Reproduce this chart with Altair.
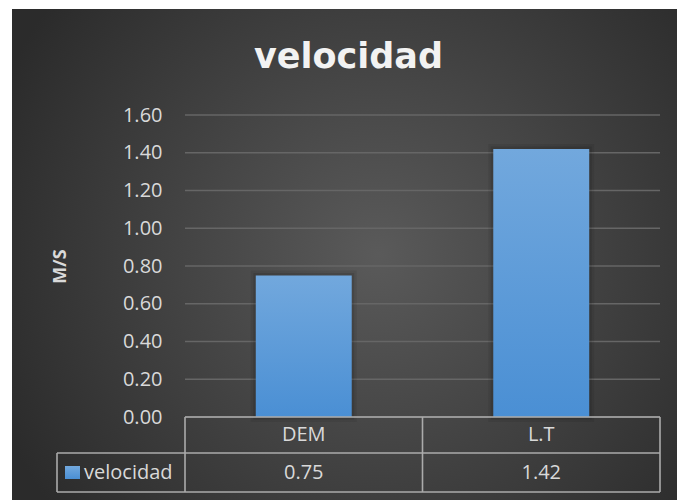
import altair as alt
import pandas as pd

# Chart data
SERIES = "velocidad"
categories = ["DEM", "L.T"]
values = [0.75, 1.42]
y_ticks = [0.0, 0.2, 0.4, 0.6, 0.8, 1.0, 1.2, 1.4, 1.6]
y_title = "M/S"

df = pd.DataFrame({"cat": categories, "val": values})
ticks_df = pd.DataFrame({"val": y_ticks})

W, H = 475, 302
FONT = "Open Sans"
TXT = "#d9d9d9"
LINE = "#ababab"

y_scale = alt.Scale(domain=[0, 1.6], nice=False)
y_axis = alt.Axis(values=y_ticks, format=".2f", title=y_title, grid=False,
                  domain=False, ticks=False, labelPadding=23, zindex=1,
                  labelFont=FONT, labelFontSize=20, labelColor=TXT,
                  titleFont=FONT, titleFontSize=18, titleFontWeight="bold",
                  titleColor=TXT, titleAngle=-90, titleX=-125, titleY=H / 2,
                  titleAlign="center", titleBaseline="middle")
x_enc = alt.X("cat:N", sort=categories,
              scale=alt.Scale(paddingInner=0, paddingOuter=0), axis=None)
y_enc = alt.Y("val:Q", scale=y_scale, axis=y_axis)

one = alt.Data(values=[{}])

# dark panel with radial shading
panel = alt.Chart(one).mark_rect(
    color={"gradient": "radial", "x1": 0.55, "y1": 0.5, "r1": 0,
           "x2": 0.55, "y2": 0.5, "r2": 0.62,
           "stops": [{"offset": 0, "color": "#5a5a5a"},
                     {"offset": 1, "color": "#2b2b2b"}]}
).encode(x=alt.value(-173), x2=alt.value(492), y=alt.value(-106), y2=alt.value(385))

# horizontal gridlines at the tick values
grid = alt.Chart(ticks_df).mark_rule(color="#666666", strokeWidth=1.3).encode(
    y=y_enc, x=alt.value(0), x2=alt.value(W))

bar_fill = {"gradient": "linear", "x1": 0, "y1": 0, "x2": 0, "y2": 1,
            "stops": [{"offset": 0, "color": "#72a8dd"},
                      {"offset": 1, "color": "#4a8fd4"}]}

shadow1 = alt.Chart(df).mark_bar(width=alt.RelativeBandSize(0.404), fillOpacity=0,
                                 stroke="black", strokeOpacity=0.07, strokeWidth=10
                                 ).encode(x=x_enc, y=y_enc)
shadow2 = alt.Chart(df).mark_bar(width=alt.RelativeBandSize(0.404), fillOpacity=0,
                                 stroke="black", strokeOpacity=0.1, strokeWidth=5
                                 ).encode(x=x_enc, y=y_enc)
bars = alt.Chart(df).mark_bar(width=alt.RelativeBandSize(0.404), color=bar_fill
                              ).encode(x=x_enc, y=y_enc)


def hline(x1, x2, y):
    return alt.Chart(one).mark_rule(color=LINE, strokeWidth=1.6).encode(
        x=alt.value(x1), x2=alt.value(x2), y=alt.value(y))


def vline(x, y1, y2):
    return alt.Chart(one).mark_rule(color=LINE, strokeWidth=1.6).encode(
        x=alt.value(x), y=alt.value(y1), y2=alt.value(y2))


# data table below the plot
table_lines = [hline(0, W, H), hline(-128, W, 338), hline(-128, W, 377),
               vline(W, H, 377), vline(-128, 338, 377)]

vlines_cat = alt.Chart(df).mark_rule(color=LINE, strokeWidth=1.6).encode(
    x=alt.X("cat:N", sort=categories, bandPosition=0,
            scale=alt.Scale(paddingInner=0, paddingOuter=0), axis=None),
    y=alt.value(H), y2=alt.value(377))

cat_text = alt.Chart(df).mark_text(font=FONT, fontSize=20, color=TXT, baseline="middle").encode(
    x=x_enc, y=alt.value(320), text="cat:N")
val_text = alt.Chart(df).mark_text(font=FONT, fontSize=20, color=TXT, baseline="middle").encode(
    x=x_enc, y=alt.value(358), text=alt.Text("val:Q", format=".2f"))

key_sq = alt.Chart(one).mark_rect(color=bar_fill).encode(
    x=alt.value(-120), x2=alt.value(-105), y=alt.value(351), y2=alt.value(364))
key_text = alt.Chart(alt.Data(values=[{"s": SERIES}])).mark_text(
    font=FONT, fontSize=20, color=TXT, align="left", baseline="middle").encode(
    x=alt.value(-101), y=alt.value(358), text="s:N")

title = alt.Chart(alt.Data(values=[{"s": SERIES}])).mark_text(
    font="DejaVu Sans", fontSize=35, fontWeight="bold", color="#f2f2f2",
    align="center", baseline="alphabetic").encode(
    x=alt.value(163.5), y=alt.value(-47), text="s:N")

chart = alt.layer(
    panel, grid, shadow1, shadow2, bars, *table_lines, vlines_cat,
    cat_text, val_text, key_sq, key_text, title
).properties(
    width=W, height=H,
    padding={"left": 185, "top": 115, "right": 17, "bottom": 83},
    autosize=alt.AutoSizeParams(type="none"),
    background="white",
).configure_view(stroke=None)

chart.save("out.html", embed_options={"renderer": "svg", "actions": False})
